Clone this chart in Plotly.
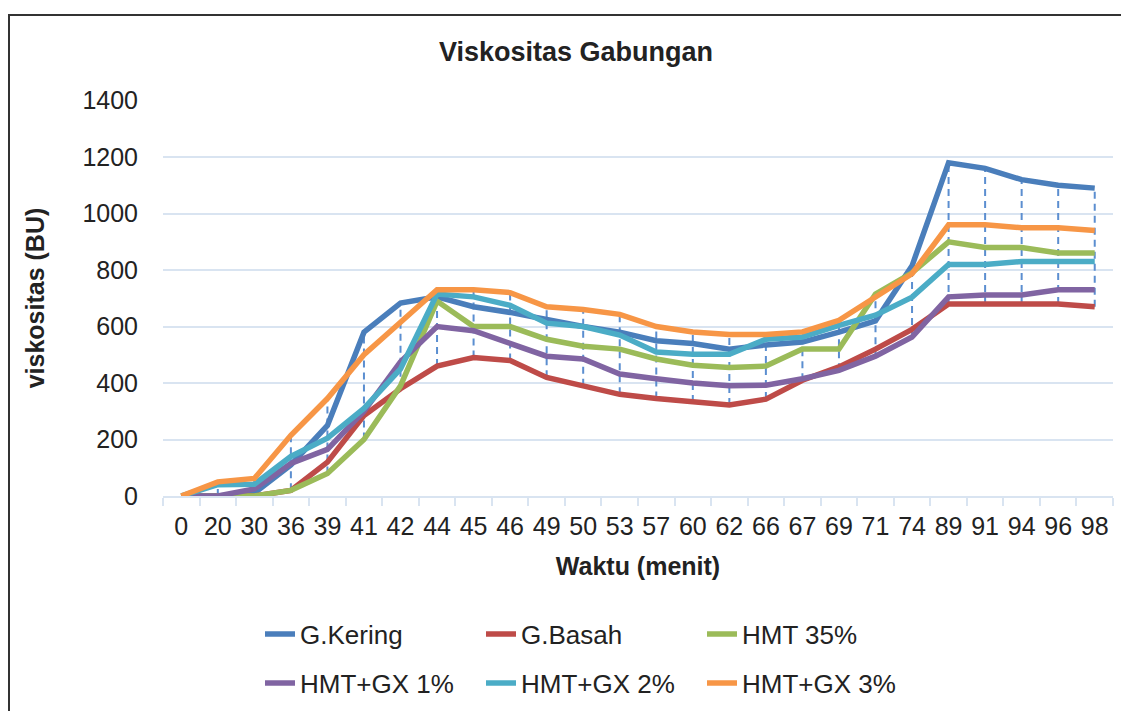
import plotly.graph_objects as go

categories = ["0", "20", "30", "36", "39", "41", "42", "44", "45", "46", "49", "50", "53",
              "57", "60", "62", "66", "67", "69", "71", "74", "89", "91", "94", "96", "98"]

g_kering = [0, 0, 10, 110, 250, 580, 683, 705, 670, 650, 625, 600, 580,
            550, 540, 520, 535, 545, 580, 620, 815, 1180, 1160, 1120, 1100, 1090]
g_basah = [0, 0, 0, 20, 120, 285, 380, 460, 490, 480, 420, 390, 360,
           345, 333, 322, 343, 410, 457, 520, 590, 680, 680, 680, 680, 670]
hmt_35 = [0, 0, 0, 20, 80, 200, 390, 690, 600, 600, 555, 530, 520,
          485, 463, 455, 460, 520, 520, 715, 790, 900, 880, 880, 860, 860]
hmt_gx1 = [0, 0, 25, 115, 165, 300, 475, 600, 585, 540, 495, 485, 432,
           415, 400, 390, 392, 415, 445, 495, 563, 705, 712, 712, 730, 730]
hmt_gx2 = [0, 40, 42, 140, 205, 310, 450, 715, 705, 675, 612, 600, 570,
           510, 502, 502, 555, 563, 604, 640, 704, 820, 820, 830, 830, 830]
hmt_gx3 = [0, 50, 62, 215, 345, 500, 615, 730, 730, 720, 670, 660, 643,
           600, 581, 572, 572, 581, 622, 704, 787, 960, 960, 950, 950, 940]

series_names = ["G.Kering", "G.Basah", "HMT 35%", "HMT+GX 1%", "HMT+GX 2%", "HMT+GX 3%"]
series_values = [g_kering, g_basah, hmt_35, hmt_gx1, hmt_gx2, hmt_gx3]
series_colors = ["#4A7EBB", "#BE4B48", "#9BBB59", "#8064A2", "#4BACC6", "#F79646"]
series_legends = ["legend", "legend", "legend", "legend2", "legend2", "legend2"]

FONT = "Liberation Sans, Arial, sans-serif"
TXT = "#222222"
GRID = "#D9E4F1"

fig = go.Figure()

# high-low lines (from the highest to the lowest series value at each category)
hx, hy = [], []
for i, c in enumerate(categories):
    vals = [v[i] for v in series_values]
    hx += [c, c, None]
    hy += [min(vals), max(vals), None]
fig.add_trace(go.Scatter(x=hx, y=hy, mode="lines",
                         line=dict(color="#5B8ED0", width=2, dash="7px,5px"),
                         showlegend=False, hoverinfo="skip"))

for name, vals, col, lg in zip(series_names, series_values, series_colors, series_legends):
    fig.add_trace(go.Scatter(x=categories, y=vals, mode="lines", name=name,
                             line=dict(color=col, width=5.5), legend=lg))

# page offset (browser body margin) -> convert reference pixel positions to figure pixels
OFF = 8
W, H = 1129, 711
L, R, T, B = 163 - OFF, 1113 - OFF, 100 - OFF, 496 - OFF
def px_x(p):
    return (p - OFF - L) / (R - L)
def px_y(p):
    return (B - (p - OFF)) / (B - T)

legend_common = dict(orientation="h", xanchor="left", yanchor="middle",
                     font=dict(family=FONT, size=26, color=TXT),
                     entrywidth=176, entrywidthmode="pixels",
                     bgcolor="rgba(0,0,0,0)", itemclick=False)

fig.update_layout(
    width=W, height=H, autosize=False,
    margin=dict(l=L, r=W - R, t=T, b=H - B, pad=0),
    paper_bgcolor="white", plot_bgcolor="white",
    font=dict(family=FONT, color=TXT),
    title=dict(text="<b>Viskositas Gabungan</b>", x=(576 - OFF) / W, xref="container",
               xanchor="center", y=1 - (52 - OFF) / H, yref="container", yanchor="middle",
               font=dict(family=FONT, size=27, color=TXT)),
    legend=dict(x=px_x(260), y=px_y(634), **legend_common),
    legend2=dict(x=px_x(260), y=px_y(683), **legend_common),
    xaxis=dict(type="category", range=[-0.5, len(categories) - 0.5], automargin=False,
               showgrid=False, showline=True, linecolor=GRID, linewidth=2,
               ticks="outside", tickson="boundaries", ticklen=8, tickcolor=GRID, tickwidth=2,
               tickangle=0,
               tickfont=dict(family=FONT, size=25, color=TXT), ticklabelstandoff=7,
               title=dict(text="<b>Waktu (menit)</b>", font=dict(family=FONT, size=25, color=TXT),
                          standoff=18),
               fixedrange=True),
    yaxis=dict(range=[0, 1402], tickvals=[0, 200, 400, 600, 800, 1000, 1200, 1400],
               automargin=False, showgrid=True, gridcolor=GRID, gridwidth=2,
               zeroline=False, showline=False, ticks="",
               tickfont=dict(family=FONT, size=25, color=TXT), ticklabelstandoff=24,
               title=dict(text="<b>viskositas (BU)</b>", font=dict(family=FONT, size=25, color=TXT),
                          standoff=30),
               fixedrange=True),
    shapes=[dict(type="rect", xref="paper", yref="paper",
                 x0=px_x(9), x1=px_x(1145), y0=px_y(730), y1=px_y(15),
                 line=dict(color="#333333", width=2), fillcolor="rgba(0,0,0,0)", layer="below")],
)

fig.write_html("out.html")
